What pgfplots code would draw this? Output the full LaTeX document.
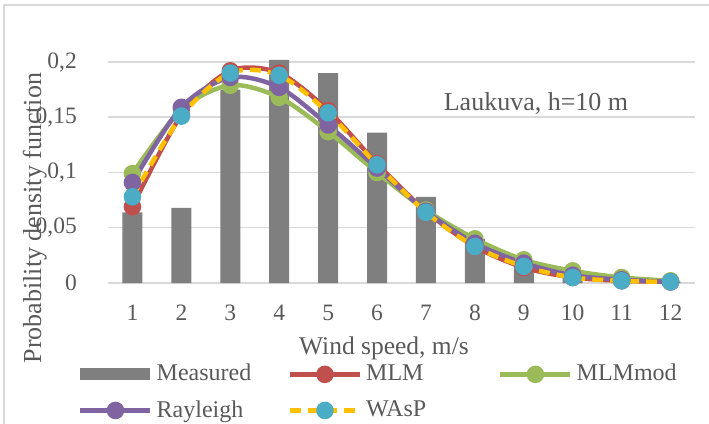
\documentclass[border=0pt]{standalone}
\usepackage{fontspec}
\setmainfont{Liberation Serif}
\usepackage{pgfplots}
\usepackage{pgfplotstable}
\pgfplotsset{compat=1.18}
\definecolor{barGray}{HTML}{7F7F7F}
\definecolor{gridGray}{HTML}{D9D9D9}
\definecolor{txtGray}{HTML}{595959}
\definecolor{cRed}{HTML}{C0504D}
\definecolor{cGreen}{HTML}{9BBB59}
\definecolor{cPurple}{HTML}{8064A2}
\definecolor{cYellow}{HTML}{FFC000}
\definecolor{cCyan}{HTML}{4BACC6}
\pgfplotstableread{
x Meas MLM MLMmod Ray WAsP
1 0.064 0.069 0.099 0.091 0.078
2 0.068 0.152 0.157 0.159 0.151
3 0.175 0.192 0.179 0.186 0.190
4 0.202 0.190 0.168 0.177 0.188
5 0.190 0.156 0.137 0.143 0.154
6 0.136 0.108 0.100 0.104 0.107
7 0.078 0.065 0.066 0.065 0.064
8 0.040 0.033 0.040 0.036 0.033
9 0.019 0.014 0.021 0.018 0.015
10 0.005 0.005 0.011 0.007 0.005
11 0.001 0.002 0.005 0.003 0.002
12 0.001 0.001 0.002 0.001 0.001
}\datatable
\begin{document}
\begin{tikzpicture}
\fontsize{23bp}{27bp}\selectfont
\useasboundingbox (0,0) rectangle (709bp,424bp);
\draw[gridGray, line width=1.5bp] (4bp,0) -- (4bp,419bp) -- (709bp,419bp);
\begin{axis}[
  at={(108bp,141bp)}, anchor=south west,
  scale only axis, width=587bp, height=221bp,
  xmin=0.5, xmax=12.5, ymin=0, ymax=0.2,
  clip=false,
  axis line style={draw=none},
  axis x line*=bottom,
  axis y line*=left,
  major tick length=0pt,
  xtick={1,...,12},
  xticklabels={1,2,3,4,5,6,7,8,9,10,11,12},
  ytick={0,0.05,0.1,0.15,0.2},
  yticklabels={0,{0,05},{0,1},{0,15},{0,2}},
  /pgf/number format/assume math mode=true,
  ymajorgrids,
  grid style={gridGray, line width=1.5bp},
  tick label style={text=txtGray, font=\fontsize{23.5bp}{27bp}\selectfont},
  xticklabel style={inner sep=0pt, yshift=-22bp},
  yticklabel style={inner sep=0pt, xshift=-31bp},
  legend columns=3,
  legend style={at={(-0.0511,-0.367)}, anchor=north west, draw=none, fill=none,
    inner sep=0pt, row sep=16bp, text=txtGray,
    font=\fontsize{24bp}{28bp}\selectfont,
    nodes={inner sep=0pt},
    /tikz/every odd column/.append style={column sep=4bp}},
  legend cell align=left,
]
\draw[gridGray, line width=1.5bp] (axis cs:0.5,0) -- (axis cs:12.5,0);
\addplot[ybar, bar width=20bp, bar shift=0pt, fill=barGray, draw=none,
  legend image code/.code={\fill[barGray] (0bp,-6bp) rectangle (70bp,6bp);}]
  table[x=x, y=Meas] {\datatable};
\addlegendentry{\makebox[131bp][l]{Measured}}
\pgfplotsset{every axis plot/.append style={
  legend image code/.code={\draw[mark repeat=2,mark phase=2,##1] plot coordinates {(0bp,0bp) (35bp,0bp) (70bp,0bp)};}}}
\addplot[smooth, cRed, line width=4.5bp, mark=*, mark size=6.5bp, mark options={solid, fill=cRed, draw=cRed}]
  table[x=x, y=MLM] {\datatable};
\addlegendentry{\makebox[132bp][l]{MLM}}
\addplot[smooth, cGreen, line width=4.5bp, mark=*, mark size=6.5bp, mark options={solid, fill=cGreen, draw=cGreen}]
  table[x=x, y=MLMmod] {\datatable};
\addlegendentry{MLMmod}
\addplot[smooth, cPurple, line width=4.5bp, mark=*, mark size=6.5bp, mark options={solid, fill=cPurple, draw=cPurple}]
  table[x=x, y=Ray] {\datatable};
\addlegendentry{\makebox[131bp][l]{Rayleigh}}
\addplot[smooth, cYellow, line width=4.5bp, dash pattern=on 11bp off 7bp, mark=*, mark size=6.5bp, mark options={solid, fill=cCyan, draw=cCyan}]
  table[x=x, y=WAsP] {\datatable};
\addlegendentry{WAsP}
\end{axis}
\node[text=txtGray, anchor=base, font=\fontsize{25.5bp}{30bp}\selectfont] at (384bp,69bp) {Wind speed, m/s};
\node[text=txtGray, anchor=base, rotate=90, font=\fontsize{26bp}{30bp}\selectfont] at (41bp,206bp) {Probability density function};
\node[text=txtGray, font=\fontsize{26bp}{30bp}\selectfont] at (536bp,321bp) {Laukuva, h=10 m};
\end{tikzpicture}
\end{document}
